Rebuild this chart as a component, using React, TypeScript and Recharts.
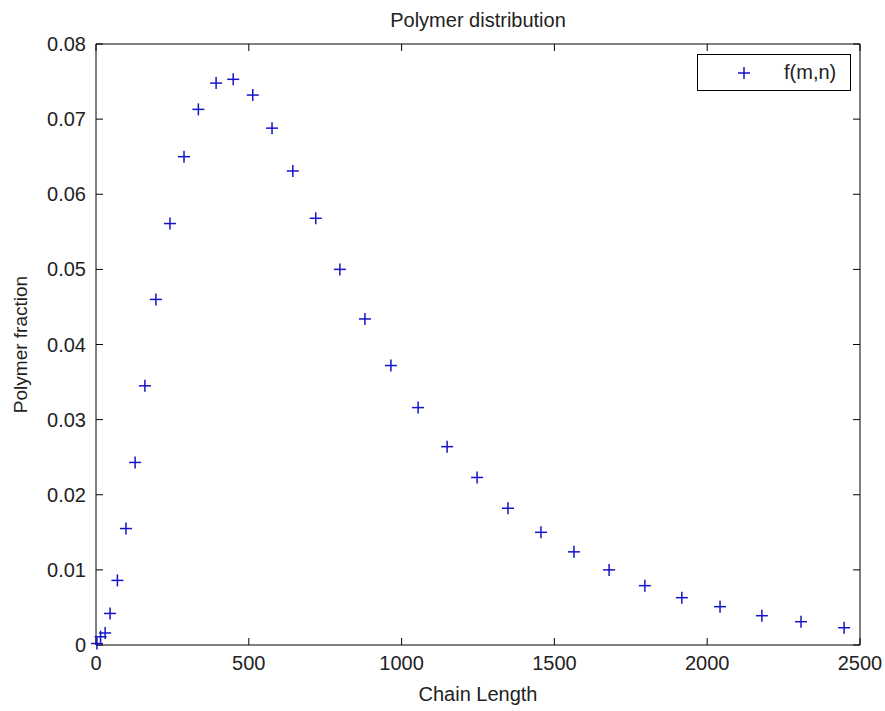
import React from 'react';
import {
  ScatterChart,
  Scatter,
  XAxis,
  YAxis,
} from 'recharts';

// values
const chainLength = [
  3, 15, 30, 46, 70, 98, 128, 160, 196, 242, 288, 335, 393, 449, 513, 576, 644,
  719, 798, 880, 965, 1054, 1149, 1247, 1348, 1456, 1564, 1679, 1796, 1917, 2042,
  2179, 2307, 2448,
];
const polymerFraction = [
  0.0002, 0.0011, 0.0016, 0.0042, 0.0086, 0.0155, 0.0243, 0.0345, 0.046, 0.0561,
  0.065, 0.0713, 0.0748, 0.0753, 0.0732, 0.0688, 0.0631, 0.0568, 0.05, 0.0434,
  0.0372, 0.0316, 0.0264, 0.0223, 0.0182, 0.015, 0.0124, 0.01, 0.0079, 0.0063,
  0.0051, 0.0039, 0.0031, 0.0023,
];
const xTicks = [0, 500, 1000, 1500, 2000, 2500];
const yTicks = [0, 0.01, 0.02, 0.03, 0.04, 0.05, 0.06, 0.07, 0.08];

const data = chainLength.map((x, i) => ({ x, y: polymerFraction[i] }));

const FONT = 'Arial, "Liberation Sans", Helvetica, sans-serif';
const BLUE = '#1414c8';
const INK = '#222';

const Plus = (props: any) => {
  const { cx, cy } = props;
  if (cx == null || cy == null) return null;
  return (
    <g stroke={BLUE} strokeWidth={1.5}>
      <line x1={cx - 6} y1={cy} x2={cx + 6} y2={cy} />
      <line x1={cx} y1={cy - 6} x2={cx} y2={cy + 6} />
    </g>
  );
};

// nothing drawn: only there so the top / right box axes get a domain
const NoMark = () => <g />;

const YTitle = (props: any) => {
  const vb = props.viewBox || {};
  const x = vb.x + 20;
  const y = vb.y + vb.height / 2;
  return (
    <text
      x={x}
      y={y}
      transform={`rotate(-90 ${x} ${y})`}
      textAnchor="middle"
      dominantBaseline="central"
      fontFamily={FONT}
      fontSize={19}
      fill={INK}
    >
      Polymer fraction
    </text>
  );
};

const tickStyle = { fontSize: 20, fill: INK, fontFamily: FONT };
const axisLine = { stroke: '#000', strokeWidth: 1 };
const blank = () => '';

export default function App() {
  return (
    <div style={{ position: 'absolute', left: 0, top: 0, width: 885, height: 711, background: '#fff' }}>
      <ScatterChart
        width={885}
        height={711}
        margin={{ top: 43, right: 24, bottom: 0, left: 0 }}
      >
        <XAxis
          xAxisId="bottom"
          type="number"
          dataKey="x"
          domain={[0, 2500]}
          ticks={xTicks}
          orientation="bottom"
          height={66}
          tickSize={-7}
          tickMargin={18}
          axisLine={axisLine}
          tickLine={axisLine}
          tick={tickStyle}
          interval={0}
          label={{
            value: 'Chain Length',
            position: 'insideBottom',
            offset: 10,
            style: { fontSize: 20, fill: INK, fontFamily: FONT },
          }}
        />
        <YAxis
          yAxisId="left"
          type="number"
          dataKey="y"
          domain={[0, 0.08]}
          ticks={yTicks}
          orientation="left"
          width={96}
          tickSize={-7}
          tickMargin={17}
          axisLine={axisLine}
          tickLine={axisLine}
          tick={tickStyle}
          interval={0}
          tickFormatter={(v: number) => (v === 0 ? '0' : v.toFixed(2))}
          label={{ content: YTitle }}
        />
        {/* box: top and right edges with inward ticks */}
        <XAxis
          xAxisId="top"
          type="number"
          dataKey="x"
          domain={[0, 2500]}
          ticks={xTicks}
          orientation="top"
          height={1}
          tickSize={-7}
          axisLine={axisLine}
          tickLine={axisLine}
          tickFormatter={blank}
          interval={0}
          label={{
            value: 'Polymer distribution',
            position: 'top',
            offset: 16,
            style: { fontSize: 20, fill: INK, fontFamily: FONT },
          }}
        />
        <YAxis
          yAxisId="right"
          type="number"
          dataKey="y"
          domain={[0, 0.08]}
          ticks={yTicks}
          orientation="right"
          width={1}
          tickSize={-7}
          axisLine={axisLine}
          tickLine={axisLine}
          tickFormatter={blank}
          interval={0}
        />
        <Scatter
          name="f(m,n)"
          data={data}
          xAxisId="bottom"
          yAxisId="left"
          shape={Plus}
          fill={BLUE}
          isAnimationActive={false}
        />
        <Scatter
          data={data}
          xAxisId="top"
          yAxisId="right"
          shape={NoMark}
          legendType="none"
          isAnimationActive={false}
        />
      </ScatterChart>
      <div
        style={{
          position: 'absolute',
          left: 697,
          top: 54,
          width: 152,
          height: 35,
          border: '1px solid #000',
          background: '#fff',
          fontFamily: FONT,
          fontSize: 20,
          color: INK,
        }}
      >
        <svg width={30} height={35} style={{ position: 'absolute', left: 31, top: 0 }}>
          <Plus cx={15} cy={18} />
        </svg>
        <span style={{ position: 'absolute', left: 86, top: 5, lineHeight: '24px' }}>f(m,n)</span>
      </div>
    </div>
  );
}
